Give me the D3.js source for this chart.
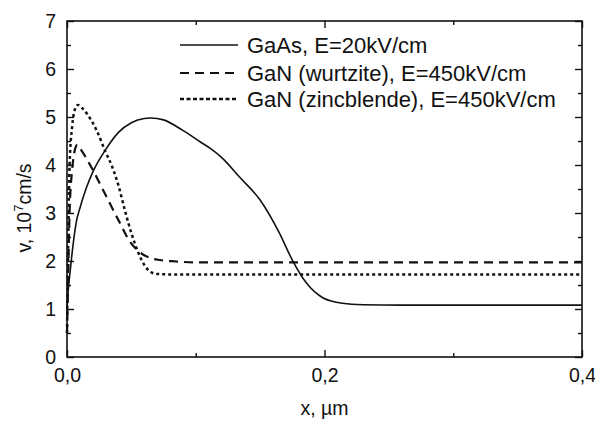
<!DOCTYPE html>
<html><head><meta charset="utf-8">
<script src="https://cdn.jsdelivr.net/npm/d3@7"></script>
<style>body{margin:0;background:#fff;} svg{display:block;} text{font-family:"Liberation Sans",Arial,sans-serif;fill:#111;}</style>
</head><body>
<svg id="c" width="595" height="425"></svg>
<script>
// Data
const xGaAs = [0, 0.001, 0.0025, 0.005, 0.0075, 0.01, 0.015, 0.02, 0.03, 0.04, 0.05, 0.06, 0.065, 0.075, 0.09, 0.103, 0.111, 0.12, 0.134, 0.15, 0.165, 0.175, 0.186, 0.199, 0.214, 0.23, 0.26, 0.3, 0.35, 0.4];
const vGaAs = [1.0, 1.4, 1.8, 2.4, 2.85, 3.1, 3.52, 3.85, 4.32, 4.68, 4.88, 4.97, 4.98, 4.94, 4.72, 4.49, 4.35, 4.16, 3.75, 3.27, 2.58, 2.02, 1.54, 1.23, 1.12, 1.09, 1.08, 1.08, 1.08, 1.08];
const xWurtz = [0, 0.001, 0.002, 0.004, 0.006, 0.008, 0.01, 0.02, 0.028, 0.04, 0.049, 0.055, 0.06, 0.065, 0.072, 0.085, 0.1, 0.2, 0.3, 0.4];
const vWurtz = [0.5, 1.8, 3.0, 3.9, 4.3, 4.42, 4.35, 3.9, 3.48, 2.85, 2.4, 2.22, 2.12, 2.06, 2.02, 1.99, 1.97, 1.97, 1.97, 1.97];
const xZinc = [0, 0.001, 0.002, 0.004, 0.006, 0.0085, 0.012, 0.016, 0.023, 0.03, 0.035, 0.04, 0.045, 0.05, 0.055, 0.06, 0.065, 0.07, 0.08, 0.1, 0.2, 0.3, 0.4];
const vZinc = [0.5, 2.5, 4.0, 4.8, 5.15, 5.25, 5.18, 5.05, 4.72, 4.27, 3.97, 3.57, 3.05, 2.58, 2.2, 1.92, 1.77, 1.73, 1.72, 1.72, 1.72, 1.72, 1.72];
const seriesNames = ["GaAs, E=20kV/cm", "GaN (wurtzite), E=450kV/cm", "GaN (zincblende), E=450kV/cm"];
const xTickVals = [0, 0.2, 0.4];
const xTickLabels = ["0,0", "0,2", "0,4"];
const xMinorVals = [0.1, 0.3];
const yTickVals = [0, 1, 2, 3, 4, 5, 6, 7];
const yMinorVals = [0.5, 1.5, 2.5, 3.5, 4.5, 5.5, 6.5];

const svg = d3.select("#c");
const L = 67, R = 582, T = 21, B = 357;
const x = d3.scaleLinear().domain([0, 0.4]).range([L, R]);
const y = d3.scaleLinear().domain([0, 7]).range([B, T]);

const styles = [
  {dash: null, w: 1.6},
  {dash: "9,6", w: 2.2},
  {dash: "3,3", w: 2.5}
];
const series = [
  d3.zip(xGaAs, vGaAs),
  d3.zip(xWurtz, vWurtz),
  d3.zip(xZinc, vZinc)
];
const line = d3.line().x(d => x(d[0])).y(d => y(d[1])).curve(d3.curveMonotoneX);
series.forEach((s, i) => {
  svg.append("path").attr("d", line(s)).attr("fill", "none")
    .attr("stroke", "#111").attr("stroke-width", styles[i].w)
    .attr("stroke-dasharray", styles[i].dash);
});

// Axes frame with inward ticks
function axisG(axis, tr){ const g = svg.append("g").attr("transform", tr).call(axis); g.select(".domain").remove(); g.selectAll("line").attr("stroke","#111").attr("stroke-width",1.4); return g; }
const gb = axisG(d3.axisBottom(x).tickValues(xTickVals).tickSize(-7).tickPadding(11).tickFormat((d,i)=>xTickLabels[i]), `translate(0,${B})`);
gb.selectAll("text").attr("font-size", 19.5).attr("font-family", "Liberation Sans, Arial, sans-serif").attr("fill","#111");
axisG(d3.axisBottom(x).tickValues(xMinorVals).tickSize(-4).tickFormat(""), `translate(0,${B})`);
axisG(d3.axisTop(x).tickValues(xTickVals).tickSize(-7).tickFormat(""), `translate(0,${T})`);
axisG(d3.axisTop(x).tickValues(xMinorVals).tickSize(-4).tickFormat(""), `translate(0,${T})`);
const gl = axisG(d3.axisLeft(y).tickValues(yTickVals).tickSize(-7).tickPadding(11).tickFormat(d3.format("d")), `translate(${L},0)`);
gl.selectAll("text").attr("font-size", 19.5).attr("font-family", "Liberation Sans, Arial, sans-serif").attr("fill","#111");
axisG(d3.axisLeft(y).tickValues(yMinorVals).tickSize(-4).tickFormat(""), `translate(${L},0)`);
axisG(d3.axisRight(y).tickValues(yTickVals).tickSize(-7).tickFormat(""), `translate(${R},0)`);
axisG(d3.axisRight(y).tickValues(yMinorVals).tickSize(-4).tickFormat(""), `translate(${R},0)`);
svg.append("rect").attr("x", L).attr("y", T).attr("width", R-L).attr("height", B-T)
  .attr("fill","none").attr("stroke","#111").attr("stroke-width",1.6);

// Axis titles
svg.append("text").attr("x", (L+R)/2).attr("y", 415).attr("text-anchor","middle").attr("font-size",19.5).text("x, \u00b5m");
const yt = svg.append("text").attr("transform","translate(31,208) rotate(-90)").attr("text-anchor","middle").attr("font-size",19.5);
yt.append("tspan").text("v, 10");
yt.append("tspan").attr("dy",-8).attr("font-size",13).text("7");
yt.append("tspan").attr("dy",8).text("cm/s");

// Legend
const legY = [45, 73, 99];
const legDash = [null, "9,6", "4,2.5"];
series.forEach((s, i) => {
  svg.append("line").attr("x1", 180).attr("x2", 238).attr("y1", legY[i]).attr("y2", legY[i])
    .attr("stroke","#111").attr("stroke-width", styles[i].w).attr("stroke-dasharray", legDash[i]);
  svg.append("text").attr("x", 247).attr("y", legY[i]+7.5).attr("font-size", 22).text(seriesNames[i]);
});
</script>
</body></html>
